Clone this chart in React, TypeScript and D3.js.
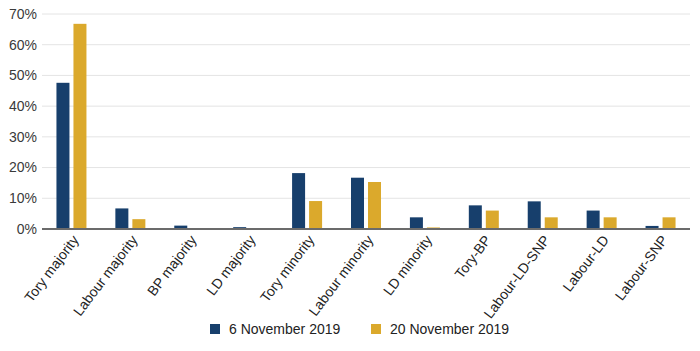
import React, { useEffect, useRef } from 'react';
import * as d3 from 'd3';

const categories = [
  'Tory majority', 'Labour majority', 'BP majority', 'LD majority', 'Tory minority',
  'Labour minority', 'LD minority', 'Tory-BP', 'Labour-LD-SNP', 'Labour-LD', 'Labour-SNP',
];
const nov6 = [47.6, 6.7, 1.1, 0.6, 18.2, 16.7, 3.8, 7.7, 9.0, 6.0, 1.0];
const nov20 = [66.8, 3.2, 0, 0, 9.1, 15.3, 0.5, 6.0, 3.8, 3.8, 3.8];
const seriesNames = ['6 November 2019', '20 November 2019'];
const colors = ['#173f6c', '#dba92c'];
const yTicks = [0, 10, 20, 30, 40, 50, 60, 70];

export default function App() {
  const svgRef = useRef<SVGSVGElement>(null);

  useEffect(() => {
    if (!svgRef.current) return;
    const root = d3.select(svgRef.current);
    root.selectAll('*').remove();

    const margin = { top: 14, right: 10, bottom: 122, left: 42 };
    const width = 700 - margin.left - margin.right;
    const height = 351 - margin.top - margin.bottom;
    const font = 'Liberation Sans, Arial, sans-serif';

    const g = root.append('g').attr('transform', `translate(${margin.left},${margin.top})`);

    const x = d3.scaleBand().domain(categories).range([0, width]);
    const y = d3.scaleLinear().domain([0, 70]).range([height, 0]);

    // gridlines
    g.selectAll('line.grid')
      .data(yTicks.slice(1))
      .enter()
      .append('line')
      .attr('x1', 0)
      .attr('x2', width)
      .attr('y1', d => y(d))
      .attr('y2', d => y(d))
      .attr('stroke', '#e4e4e4')
      .attr('stroke-width', 1);

    // y labels
    g.selectAll('text.ylab')
      .data(yTicks)
      .enter()
      .append('text')
      .attr('x', -5)
      .attr('y', d => y(d))
      .attr('dy', '0.35em')
      .attr('text-anchor', 'end')
      .attr('fill', '#3a3a3a')
      .style('font', `14px ${font}`)
      .text(d => `${d}%`);

    const series = [nov6, nov20];
    const barW = 13;
    const gap = 4;
    series.forEach((vals, si) => {
      g.selectAll(`rect.s${si}`)
        .data(vals)
        .enter()
        .append('rect')
        .attr('x', (_, i) => (x(categories[i]) || 0) + x.bandwidth() / 2 + (si === 0 ? -barW - gap / 2 : gap / 2))
        .attr('y', d => y(d))
        .attr('width', barW)
        .attr('height', d => height - y(d))
        .attr('fill', colors[si]);
    });

    // baseline
    g.append('line')
      .attr('x1', 0)
      .attr('x2', width)
      .attr('y1', height)
      .attr('y2', height)
      .attr('stroke', '#6b6b6b')
      .attr('stroke-width', 2);

    // category labels
    g.selectAll('text.xlab')
      .data(categories)
      .enter()
      .append('text')
      .attr('transform', d => `translate(${(x(d) || 0) + x.bandwidth() / 2 + 4},${height + 8}) rotate(-53)`)
      .attr('text-anchor', 'end')
      .attr('dy', '0.35em')
      .attr('fill', '#222')
      .style('font', `14px ${font}`)
      .text(d => d);

    // legend
    const legend = root.append('g').attr('transform', 'translate(210,324)');
    const offsets = [0, 161];
    seriesNames.forEach((name, i) => {
      legend.append('rect')
        .attr('x', offsets[i])
        .attr('y', 0)
        .attr('width', 10)
        .attr('height', 10)
        .attr('fill', colors[i]);
      legend.append('text')
        .attr('x', offsets[i] + 19)
        .attr('y', 5)
        .attr('dy', '0.35em')
        .attr('fill', '#222')
        .style('font', `14px ${font}`)
        .text(name);
    });
  }, []);

  return (
    <svg
      ref={svgRef}
      width={700}
      height={351}
      style={{ position: 'absolute', left: 0, top: 0, background: '#fff' }}
    />
  );
}
